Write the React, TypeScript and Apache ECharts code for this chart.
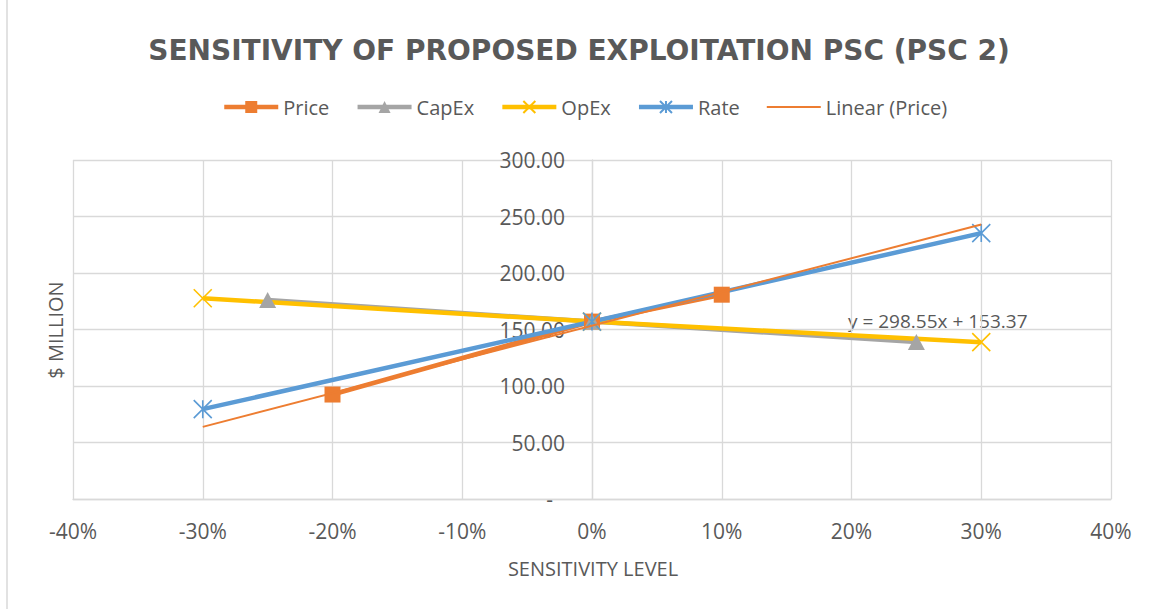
import React, { useEffect, useRef } from 'react';
import * as echarts from 'echarts';

// ---- data ----
const legendNames = ['Price', 'CapEx', 'OpEx', 'Rate', 'Linear (Price)'];

// sensitivity levels in percent, values in $ million
const priceLevels = [-20, 0, 10];
const priceValues = [92.45, 157.0, 180.8];

const capexLevels = [-25, 0, 25];
const capexValues = [176.0, 157.0, 139.0];

const opexLevels = [-30, 0, 30];
const opexValues = [177.7, 157.0, 138.8];

const rateLevels = [-30, 0, 30];
const rateValues = [79.5, 157.0, 235.3];

// linear trendline of Price (end points as drawn)
const trendLevels = [-30, 30];
const trendValues = [63.8, 242.9];
const trendEquation = 'y = 298.55x + 153.37';

const xTicks = { min: -40, max: 40, step: 10 };
const yTicks = { min: 0, max: 300, step: 50 };

const titleText = 'SENSITIVITY OF PROPOSED EXPLOITATION PSC (PSC 2)';
const xName = 'SENSITIVITY LEVEL';
const yName = '$ MILLION';

const pair = (xs: number[], ys: number[]) => xs.map((x, i) => [x, ys[i]]);

const FONT = "'Open Sans', 'Noto Sans', sans-serif";
const TEXT = '#595959';
const GRID = '#d9d9d9';

const X_PATH = 'path://M0,0L10,10M10,0L0,10';
const STAR_PATH = 'path://M0,0L10,10M10,0L0,10M5,0L5,10';

const GRID_LEFT = 73;
const GRID_RIGHT = 41;
const CHART_W = 1152;

export default function App() {
  const ref = useRef<HTMLDivElement>(null);

  useEffect(() => {
    if (!ref.current) return;
    const chart = echarts.init(ref.current, undefined, { renderer: 'svg' });

    const plotW = CHART_W - GRID_LEFT - GRID_RIGHT;
    // y axis sits at the 0% position of the x axis
    const yAxisShift = -plotW * ((0 - xTicks.min) / (xTicks.max - xTicks.min));

    const lineSeries = (name: string, data: number[][], color: string, symbol: string, size: any, stroke = false, z = 2) => ({
      name,
      type: 'line',
      data,
      symbol,
      symbolSize: size,
      showSymbol: true,
      z,
      lineStyle: { color, width: 4.5 },
      itemStyle: stroke
        ? { color: 'rgba(0,0,0,0)', borderColor: color, borderWidth: 1.6 }
        : { color },
      emphasis: { disabled: true },
    });

    chart.setOption({
      animation: false,
      textStyle: { fontFamily: FONT },
      grid: {
        left: GRID_LEFT,
        right: GRID_RIGHT,
        top: 160,
        bottom: 110,
        containLabel: false,
        outerBoundsMode: 'none',
      },
      legend: {
        data: [
          { name: legendNames[0] },
          { name: legendNames[1] },
          { name: legendNames[2] },
          { name: legendNames[3] },
          {
            name: legendNames[4],
            itemStyle: { color: 'rgba(0,0,0,0)', borderColor: 'rgba(0,0,0,0)', opacity: 0 },
            lineStyle: { width: 2 },
          },
        ],
        left: 222,
        top: 97,
        padding: 0,
        itemWidth: 54,
        itemHeight: 15,
        itemGap: 26,
        lineStyle: { width: 4.5 },
        textStyle: { fontSize: 20, color: TEXT, fontFamily: FONT, padding: [0, 0, 0, 0] },
        selectedMode: false,
      },
      xAxis: {
        type: 'value',
        min: xTicks.min,
        max: xTicks.max,
        interval: xTicks.step,
        axisLine: { show: true, lineStyle: { color: GRID, width: 1.3 } },
        axisTick: { show: false },
        splitLine: { show: true, lineStyle: { color: GRID, width: 1.3 } },
        axisLabel: {
          formatter: (v: number) => `${Math.round(v)}%`,
          color: TEXT,
          fontSize: 21,
          fontFamily: FONT,
          margin: 21,
        },
      },
      yAxis: {
        type: 'value',
        min: yTicks.min,
        max: yTicks.max,
        interval: yTicks.step,
        offset: yAxisShift,
        axisLine: { show: true, onZero: false, lineStyle: { color: GRID, width: 1.3 } },
        axisTick: { show: false },
        splitLine: { show: true, lineStyle: { color: GRID, width: 1.3 } },
        axisLabel: {
          formatter: (v: number) => (v === 0 ? '{z|-}' : v.toFixed(2)),
          color: TEXT,
          fontSize: 21,
          fontFamily: FONT,
          margin: 27,
          rich: {
            z: { fontSize: 21, color: TEXT, fontFamily: FONT, padding: [0, 12, 0, 0] },
          },
        },
      },
      series: [
        lineSeries('Price', pair(priceLevels, priceValues), '#ED7D31', 'rect', 16),
        lineSeries('CapEx', pair(capexLevels, capexValues), '#A5A5A5', 'triangle', [17, 16]),
        lineSeries('OpEx', pair(opexLevels, opexValues), '#FFC000', X_PATH, 18, true),
        lineSeries('Rate', pair(rateLevels, rateValues), '#5B9BD5', STAR_PATH, 18, true),
        {
          name: 'Linear (Price)',
          type: 'line',
          data: pair(trendLevels, trendValues),
          symbol: 'none',
          showSymbol: false,
          z: 3,
          lineStyle: { color: '#ED7D31', width: 2 },
          itemStyle: { color: '#ED7D31' },
          emphasis: { disabled: true },
        },
      ],
      graphic: [
        {
          type: 'line',
          shape: { x1: 7, y1: 0, x2: 7, y2: 609 },
          style: { stroke: GRID, lineWidth: 1.5 },
          silent: true,
        },
        {
          type: 'text',
          x: 579,
          y: 50,
          style: {
            text: titleText,
            fontSize: 28,
            fontWeight: 'bold',
            fontFamily: "'DejaVu Sans', sans-serif",
            fill: TEXT,
            align: 'center',
            verticalAlign: 'middle',
            textAlign: 'center',
            textVerticalAlign: 'middle',
          },
        },
        {
          type: 'text',
          x: 593,
          y: 568,
          style: {
            text: xName,
            fontSize: 20,
            fontFamily: FONT,
            fill: TEXT,
            align: 'center',
            verticalAlign: 'middle',
            textAlign: 'center',
            textVerticalAlign: 'middle',
          },
        },
        {
          type: 'text',
          x: 55,
          y: 330,
          rotation: Math.PI / 2,
          style: {
            text: yName,
            fontSize: 20,
            fontFamily: FONT,
            fill: TEXT,
            align: 'center',
            verticalAlign: 'middle',
            textAlign: 'center',
            textVerticalAlign: 'middle',
          },
        },
        {
          type: 'text',
          x: 848,
          y: 321,
          style: {
            text: trendEquation,
            fontSize: 19,
            fontFamily: FONT,
            fill: TEXT,
            align: 'left',
            verticalAlign: 'middle',
            textAlign: 'left',
            textVerticalAlign: 'middle',
          },
        },
      ],
    });

    return () => chart.dispose();
  }, []);

  return (
    <div
      ref={ref}
      style={{ position: 'absolute', left: 0, top: 0, width: 1152, height: 609, background: '#fff' }}
    />
  );
}
